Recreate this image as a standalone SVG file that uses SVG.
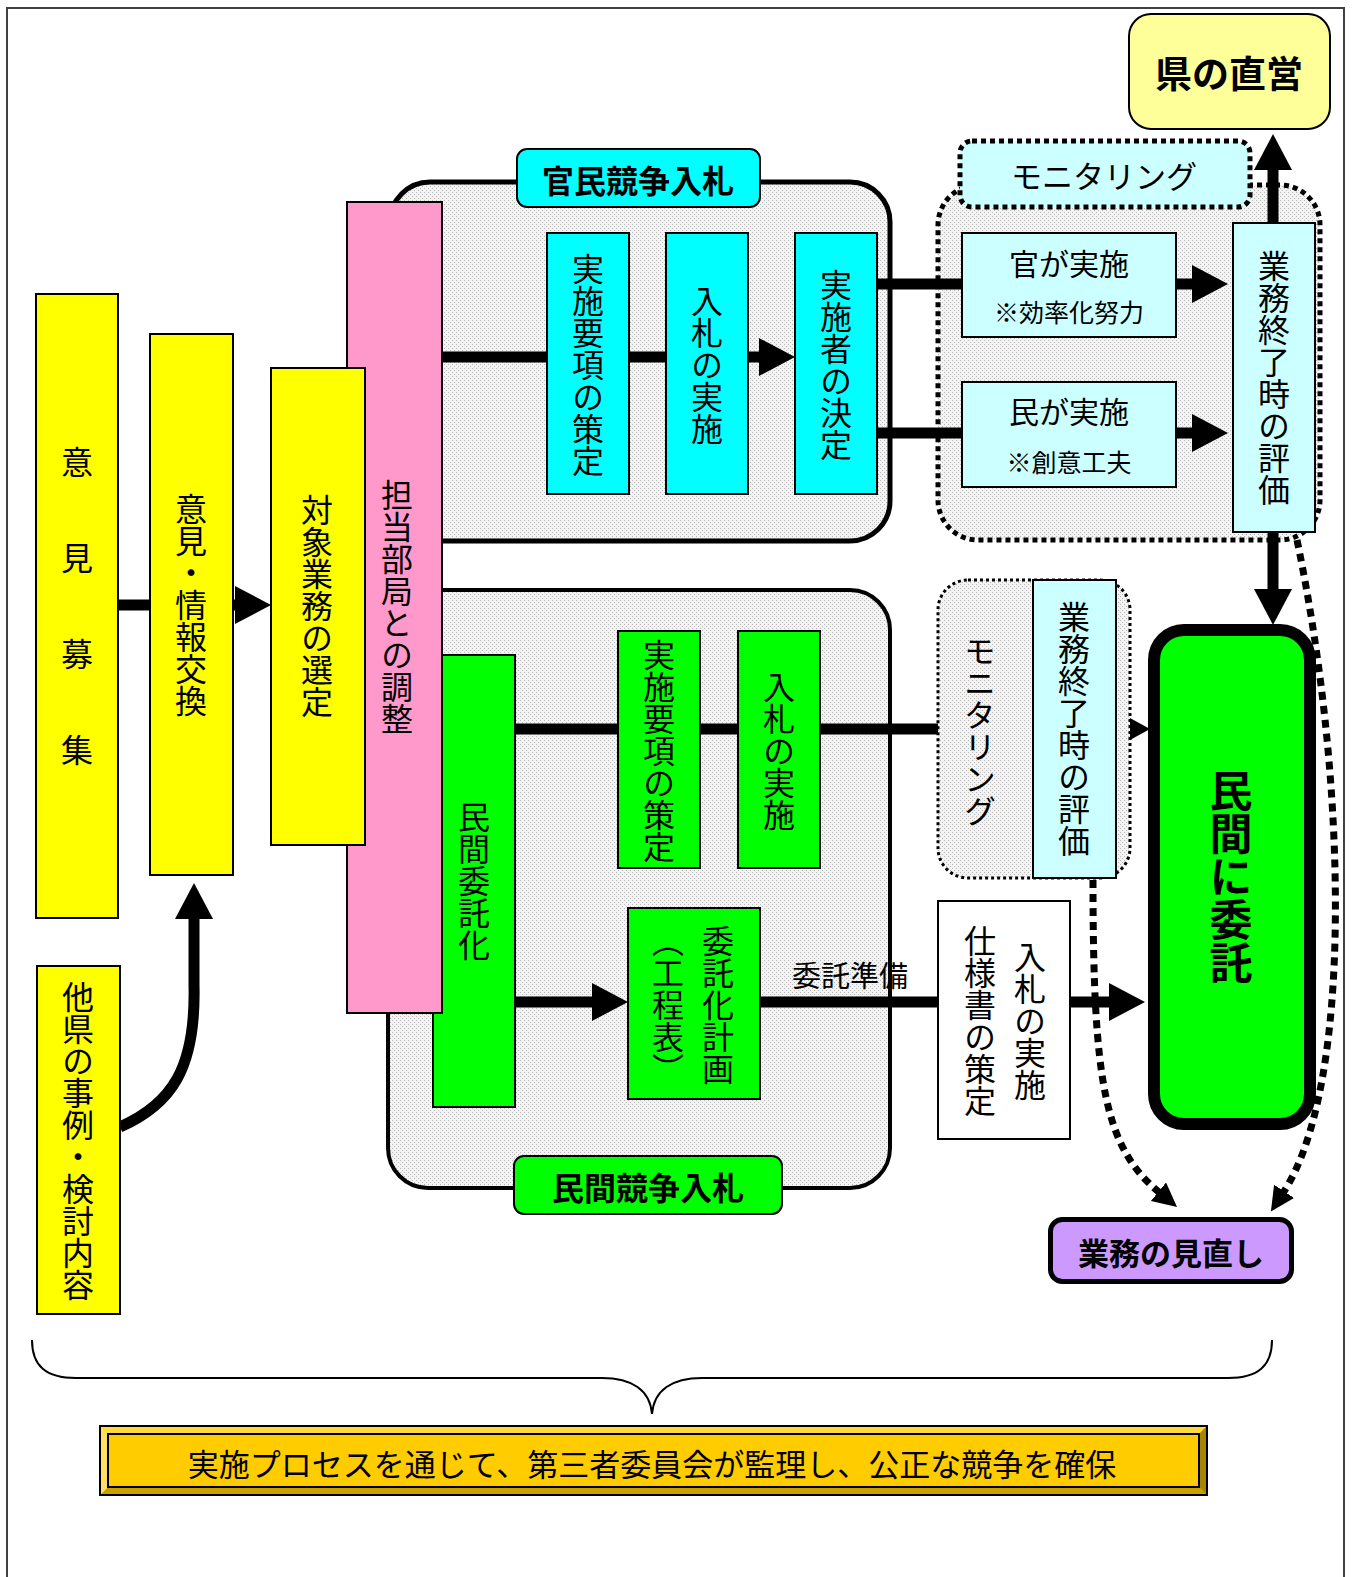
<svg xmlns="http://www.w3.org/2000/svg" width="1359" height="1577" viewBox="0 0 1359 1577">
<defs>
<pattern id="dots" width="4" height="4" patternUnits="userSpaceOnUse">
<rect width="4" height="4" fill="#f3f3f3"/>
<rect width="1" height="1" fill="#b8b8b8"/>
<rect x="2" y="2" width="1" height="1" fill="#b8b8b8"/>
</pattern>
<marker id="arr" viewBox="0 0 36 38" markerWidth="36" markerHeight="38" refX="2" refY="19" orient="auto" markerUnits="userSpaceOnUse">
<path d="M0,0 L36,19 L0,38 z" fill="#000"/>
</marker>
<marker id="arrS" viewBox="0 0 20 22" markerWidth="20" markerHeight="22" refX="2" refY="11" orient="auto" markerUnits="userSpaceOnUse">
<path d="M0,0 L20,11 L0,22 z" fill="#000"/>
</marker>
<marker id="arrD" viewBox="0 0 24 24" markerWidth="24" markerHeight="24" refX="2" refY="12" orient="auto" markerUnits="userSpaceOnUse">
<path d="M0,0 L24,12 L0,24 z" fill="#000"/>
</marker>
</defs>
<style>
text { font-family: "Noto Sans CJK JP", "Noto Sans", sans-serif; fill: #000; }
.v { writing-mode: vertical-rl; text-anchor: middle; font-size: 32px; }
.h { text-anchor: middle; dominant-baseline: central; }
.b { font-weight: bold; }
.box { stroke: #000; stroke-width: 2; }
.yel { fill: #FFFF00; }
.cy { fill: #00FFFF; }
.lcy { fill: #CCFFFF; }
.gr { fill: #00FF00; }
.con { stroke: #000; stroke-width: 11; fill: none; }
.dotl { stroke: #000; stroke-width: 7; fill: none; stroke-dasharray: 8 6; }
</style>
<rect x="7" y="8" width="1337" height="1600" fill="#fff" stroke="#404040" stroke-width="2"/>

<!-- group backgrounds -->
<g id="grp-kanmin"><rect x="390" y="182" width="500" height="359" rx="40" fill="url(#dots)" stroke="#000" stroke-width="5"/></g>
<g id="grp-minkan"><rect x="388" y="590" width="502" height="598" rx="40" fill="url(#dots)" stroke="#000" stroke-width="4"/></g>
<g id="grp-monitor-upper"><rect x="938" y="185" width="382" height="355" rx="40" fill="url(#dots)" stroke="#000" stroke-width="5" stroke-dasharray="5 4"/></g>

<!-- connectors -->
<g id="connectors">
<line class="con" x1="118" y1="605" x2="237" y2="605" marker-end="url(#arr)"/>
<path class="con" d="M120,1127 C172,1104 196,1068 194,985 L194,917" marker-end="url(#arr)"/>
<line class="con" x1="442" y1="357" x2="761" y2="357" marker-end="url(#arr)"/>
<line class="con" x1="877" y1="284" x2="962" y2="284"/>
<line class="con" x1="877" y1="433" x2="962" y2="433"/>
<line class="con" x1="1176" y1="284" x2="1194" y2="284" marker-end="url(#arr)"/>
<line class="con" x1="1176" y1="433" x2="1194" y2="433" marker-end="url(#arr)"/>
<line class="con" x1="1273" y1="223" x2="1273" y2="168" marker-end="url(#arr)"/>
<line class="con" x1="1273" y1="532" x2="1273" y2="591" marker-end="url(#arr)"/>
<line class="con" x1="515" y1="729" x2="1132" y2="729" marker-end="url(#arrS)"/>
<line class="con" x1="515" y1="1002" x2="594" y2="1002" marker-end="url(#arr)"/>
<line class="con" x1="760" y1="1002" x2="1111" y2="1002" marker-end="url(#arr)"/>
<path class="dotl" d="M1093,880 C1093,1085 1105,1148 1160,1193" marker-end="url(#arrD)"/>
<path class="dotl" d="M1297,540 C1347,780 1354,1085 1283,1193" marker-end="url(#arrD)"/>
</g>

<!-- nodes -->
<g id="n-ikenboshu"><rect class="box yel" x="36" y="294" width="82" height="624"/>
<text class="v" x="77" y="638" style="letter-spacing:64px">意見募集</text></g>
<g id="n-ikenkoukan"><rect class="box yel" x="150" y="334" width="83" height="541"/>
<text class="v" x="191" y="605">意見・情報交換</text></g>
<g id="n-takenn"><rect class="box yel" x="37" y="966" width="83" height="348"/>
<text class="v" x="78" y="1141">他県の事例・検討内容</text></g>
<g id="n-minkanitakuka"><rect class="box gr" x="433" y="655" width="82" height="452"/>
<text class="v" x="474" y="881">民間委託化</text></g>
<g id="n-tantou"><rect class="box" fill="#FF99CC" x="347" y="202" width="95" height="811"/>
<text class="v" x="397" y="607">担当部局との調整</text></g>
<g id="n-taishou"><rect class="box yel" x="271" y="368" width="94" height="477"/>
<text class="v" x="317" y="606">対象業務の選定</text></g>

<g id="n-kanmin-label"><rect class="box cy" x="517" y="149" width="243" height="58" rx="10"/>
<text class="h b" x="638" y="179" font-size="32">官民競争入札</text></g>
<g id="n-k-youkou"><rect class="box cy" x="547" y="233" width="82" height="261"/>
<text class="v" x="588" y="365">実施要項の策定</text></g>
<g id="n-k-nyusatsu"><rect class="box cy" x="666" y="233" width="82" height="261"/>
<text class="v" x="707" y="365">入札の実施</text></g>
<g id="n-k-kettei"><rect class="box cy" x="795" y="233" width="82" height="261"/>
<text class="v" x="836" y="365">実施者の決定</text></g>

<g id="n-monitor-label"><rect x="960" y="141" width="290" height="66" rx="12" fill="#CCFFFF" stroke="#000" stroke-width="5" stroke-dasharray="5 4"/>
<text class="h" x="1104" y="174" font-size="31">モニタリング</text></g>
<g id="n-kan"><rect class="box lcy" x="962" y="233" width="214" height="104"/>
<text class="h" x="1069" y="262" font-size="30">官が実施</text>
<text class="h" x="1069" y="311" font-size="25">※効率化努力</text></g>
<g id="n-min"><rect class="box lcy" x="962" y="382" width="214" height="105"/>
<text class="h" x="1069" y="410" font-size="30">民が実施</text>
<text class="h" x="1069" y="461" font-size="25">※創意工夫</text></g>
<g id="n-hyouka-upper"><rect class="box lcy" x="1233" y="223" width="82" height="309"/>
<text class="v" x="1274" y="378">業務終了時の評価</text></g>
<g id="n-chokuei"><rect class="box" fill="#FFFF99" x="1129" y="14" width="201" height="115" rx="22"/>
<text class="h b" x="1229" y="72" font-size="37">県の直営</text></g>

<g id="n-minkan-label"><rect class="box gr" x="514" y="1156" width="268" height="58" rx="10"/>
<text class="h b" x="648" y="1186" font-size="32">民間競争入札</text></g>
<g id="n-m-youkou"><rect class="box gr" x="618" y="631" width="82" height="237"/>
<text class="v" x="659" y="751">実施要項の策定</text></g>
<g id="n-m-nyusatsu"><rect class="box gr" x="738" y="631" width="82" height="237"/>
<text class="v" x="779" y="751">入札の実施</text></g>
<g id="n-itakukeikaku"><rect class="box gr" x="628" y="908" width="132" height="191"/>
<text class="v" x="718" y="1005">委託化計画</text>
<text class="v" x="668" y="1005">（工程表）</text></g>
<text class="h" x="850" y="974" font-size="29">委託準備</text>
<g id="n-shiyousho"><rect class="box" fill="#fff" x="938" y="901" width="132" height="238"/>
<text class="v" x="1030" y="1021">入札の実施</text>
<text class="v" x="980" y="1021">仕様書の策定</text></g>
<g id="n-monitor-lower"><rect x="938" y="580" width="192" height="298" rx="30" fill="url(#dots)" stroke="#000" stroke-width="3" stroke-dasharray="3 3"/>
<text class="v" x="980" y="731">モニタリング</text>
<rect class="box lcy" x="1033" y="580" width="83" height="298"/>
<text class="v" x="1074" y="729">業務終了時の評価</text></g>
<g id="n-minkanitaku"><rect x="1154" y="630" width="156" height="494" rx="30" fill="#00FF00" stroke="#000" stroke-width="12"/>
<text class="v b" x="1231" y="877" style="font-size:43px">民間に委託</text></g>
<g id="n-minaoshi"><rect x="1050.5" y="1219.5" width="241" height="62" rx="12" fill="#CC99FF" stroke="#000" stroke-width="5"/>
<text class="h b" x="1171" y="1251" font-size="31">業務の見直し</text></g>

<g id="brace"><path d="M32,1340 C32,1366 46,1378 76,1378 L602,1378 C632,1378 650,1390 652,1414 C654,1390 672,1378 702,1378 L1228,1378 C1258,1378 1272,1366 1272,1340" fill="none" stroke="#000" stroke-width="2"/></g>

<g id="n-banner">
<rect x="100" y="1426" width="1107" height="69" fill="#FFCC00" stroke="#000" stroke-width="2"/>
<polygon points="101,1427 1206,1427 1199,1434 108,1434" fill="#FFD93D"/>
<polygon points="101,1494 1206,1494 1199,1487 108,1487" fill="#C9A000"/>
<polygon points="101,1427 108,1434 108,1487 101,1494" fill="#FFE066"/>
<polygon points="1206,1427 1199,1434 1199,1487 1206,1494" fill="#A68500"/>
<rect x="108" y="1434" width="1091" height="53" fill="#FFCC00" stroke="#000" stroke-width="2"/>
<text class="h" x="652" y="1462" font-size="31">実施プロセスを通じて、第三者委員会が監理し、公正な競争を確保</text>
</g>
</svg>
